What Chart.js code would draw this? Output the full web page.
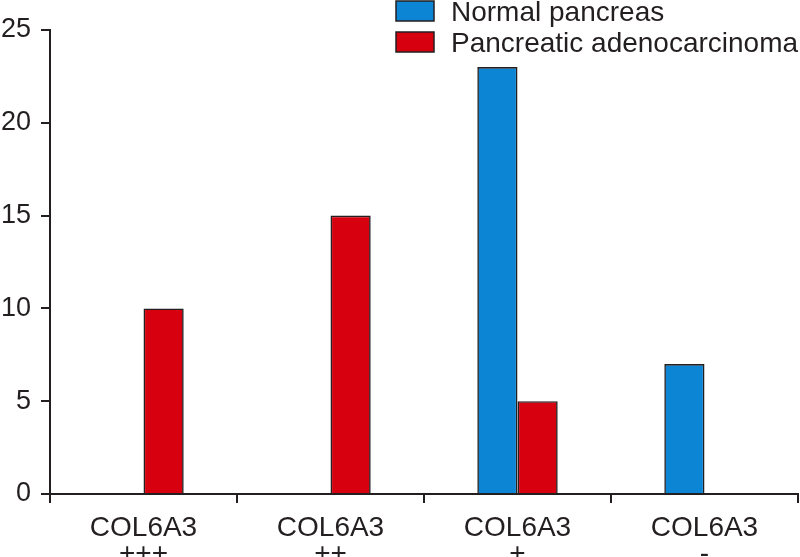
<!DOCTYPE html>
<html>
<head>
<meta charset="utf-8">
<script src="https://cdn.jsdelivr.net/npm/chart.js@4.4.1/dist/chart.umd.min.js"></script>
<style>
  html, body { margin: 0; padding: 0; background: #fff; }
  #wrap { width: 800px; height: 557px; position: relative; }
</style>
</head>
<body>
<div id="wrap"><canvas id="chart"></canvas></div>
<script>
// categories and values
const categories = [['COL6A3', '+++'], ['COL6A3', '++'], ['COL6A3', '+'], ['COL6A3', '-']];
const normalPancreas = [0, 0, 23, 7];
const adenocarcinoma = [10, 15, 5, 0];
const yTicks = [0, 5, 10, 15, 20, 25];

const ink = '#231f20';
const fontFamily = '"Liberation Sans", Arial, sans-serif';

// legend drawn in the top right corner, over the plot area
const cornerLegend = {
    id: 'cornerLegend',
    afterDraw(chart) {
        const ctx = chart.ctx;
        ctx.save();
        chart.data.datasets.forEach((ds, i) => {
            const y = 1 + i * 31;
            ctx.fillStyle = ds.backgroundColor;
            ctx.fillRect(396, y, 38, 20);
            ctx.strokeStyle = ink;
            ctx.lineWidth = 1.5;
            ctx.strokeRect(396, y, 38, 20);
            ctx.fillStyle = ink;
            ctx.font = '28px ' + fontFamily;
            ctx.textBaseline = 'alphabetic';
            ctx.fillText(ds.label, 451, y + 20);
        });
        ctx.restore();
    }
};

new Chart(document.getElementById('chart'), {
    type: 'bar',
    data: {
        labels: categories,
        datasets: [
            {
                label: 'Normal pancreas',
                data: normalPancreas,
                backgroundColor: '#0c85d5',
                borderColor: ink,
                borderWidth: 1.6,
                borderSkipped: 'start'
            },
            {
                label: 'Pancreatic adenocarcinoma',
                data: adenocarcinoma,
                backgroundColor: '#d6000f',
                borderColor: ink,
                borderWidth: 1.6,
                borderSkipped: 'start'
            }
        ]
    },
    options: {
        responsive: true,
        maintainAspectRatio: false,
        animation: false,
        layout: { padding: { top: 30, right: 2, left: 0, bottom: 0 } },
        datasets: {
            bar: { categoryPercentage: 0.43, barPercentage: 1.0 }
        },
        plugins: {
            legend: { display: false },
            tooltip: { enabled: false }
        },
        scales: {
            x: {
                offset: true,
                grid: {
                    offset: true,
                    drawOnChartArea: false,
                    drawTicks: true,
                    tickLength: 9,
                    color: ink,
                    lineWidth: 2
                },
                border: { color: ink, width: 2 },
                ticks: {
                    color: ink,
                    font: { family: fontFamily, size: 28, lineHeight: 0.94 },
                    padding: 12,
                    maxRotation: 0
                },
                afterFit(scale) { scale.height = 63; }
            },
            y: {
                min: 0,
                max: 25,
                afterBuildTicks(scale) { scale.ticks = yTicks.map(v => ({ value: v })); },
                grid: {
                    drawOnChartArea: false,
                    drawTicks: true,
                    tickLength: 9,
                    color: ink,
                    lineWidth: 2
                },
                border: { color: ink, width: 2 },
                ticks: {
                    color: ink,
                    font: { family: fontFamily, size: 27 },
                    padding: 10
                },
                afterFit(scale) { scale.width = 50; }
            }
        }
    },
    plugins: [cornerLegend]
});
</script>
</body>
</html>
